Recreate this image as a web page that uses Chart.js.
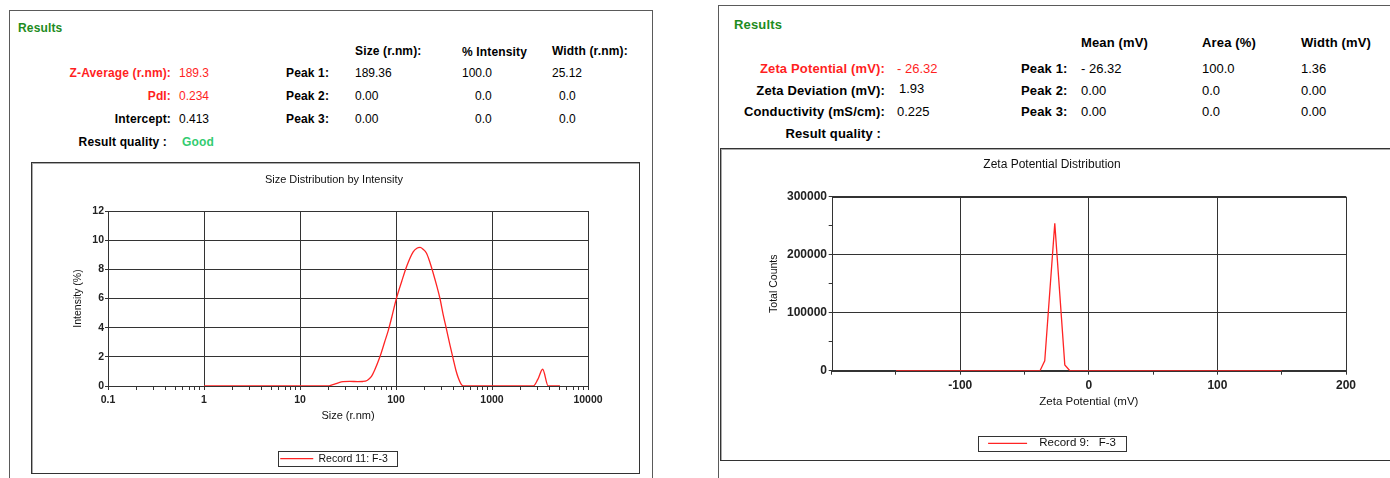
<!DOCTYPE html>
<html>
<head>
<meta charset="utf-8">
<title>Size and zeta potential results</title>
<script src="https://cdn.jsdelivr.net/npm/chart.js@4.4.1/dist/chart.umd.min.js"></script>
<style>
  body { margin: 0; width: 1390px; height: 478px; overflow: hidden; background: #fff; position: relative;
         font-family: "Liberation Sans", Arial, sans-serif; color: #000; }
  .frame { position: absolute; box-sizing: border-box; }
  .outer { border: 1px solid #5a5a5a; }
  .inner { border: 1px solid #333; box-shadow: inset 1px 1px 0 #aaa; }
  .t { position: absolute; white-space: nowrap; line-height: 1; transform: translateY(-50%); }
  .r { transform: translate(-100%, -50%); }
  .b { font-weight: bold; letter-spacing: 0.15px; }
  .red { color: #ff1f1f; }
  .green { color: #1e8c1e; }
  .good { color: #33cc70; }
  .p1 .t { font-size: 12px; }
  .p2 .t { font-size: 13px; }
  canvas { position: absolute; }
</style>
</head>
<body>

<!-- left panel: size -->
<div class="frame outer" style="left:9px;top:10px;width:644px;height:480px"></div>
<div class="frame inner" style="left:31px;top:162px;width:609px;height:312px"></div>
<div class="p1">
  <div class="t b green" style="left:18px;top:28px">Results</div>
  <div class="t b" style="left:355px;top:51px">Size (r.nm):</div>
  <div class="t b" style="left:462px;top:52px">% Intensity</div>
  <div class="t b" style="left:552px;top:51px">Width (r.nm):</div>

  <div class="t b red r" style="left:171px;top:73px">Z-Average (r.nm):</div>
  <div class="t red" style="left:179px;top:73px">189.3</div>
  <div class="t b" style="left:286px;top:73px">Peak 1:</div>
  <div class="t" style="left:355px;top:73px">189.36</div>
  <div class="t" style="left:462px;top:73px">100.0</div>
  <div class="t" style="left:552px;top:73px">25.12</div>

  <div class="t b red r" style="left:171px;top:96px">PdI:</div>
  <div class="t red" style="left:179px;top:96px">0.234</div>
  <div class="t b" style="left:286px;top:96px">Peak 2:</div>
  <div class="t" style="left:355px;top:96px">0.00</div>
  <div class="t" style="left:475px;top:96px">0.0</div>
  <div class="t" style="left:559px;top:96px">0.0</div>

  <div class="t b r" style="left:171px;top:119px">Intercept:</div>
  <div class="t" style="left:179px;top:119px">0.413</div>
  <div class="t b" style="left:286px;top:119px">Peak 3:</div>
  <div class="t" style="left:355px;top:119px">0.00</div>
  <div class="t" style="left:475px;top:119px">0.0</div>
  <div class="t" style="left:559px;top:119px">0.0</div>

  <div class="t b r" style="left:167px;top:142px">Result quality&nbsp;:</div>
  <div class="t b good" style="left:182px;top:142px">Good</div>
</div>
<canvas id="sizeChart" width="610" height="320" style="left:29px;top:163px"></canvas>

<!-- right panel: zeta -->
<div class="frame outer" style="left:718px;top:5px;width:700px;height:500px"></div>
<div class="frame inner" style="left:720px;top:148px;width:700px;height:313px"></div>
<div class="p2">
  <div class="t b green" style="left:734px;top:24px">Results</div>
  <div class="t b" style="left:1081px;top:42px">Mean (mV)</div>
  <div class="t b" style="left:1202px;top:42px">Area (%)</div>
  <div class="t b" style="left:1301px;top:42px">Width (mV)</div>

  <div class="t b red r" style="left:885px;top:68px">Zeta Potential (mV):</div>
  <div class="t red" style="left:897px;top:68px">- 26.32</div>
  <div class="t b" style="left:1021px;top:68px">Peak 1:</div>
  <div class="t" style="left:1081px;top:68px">- 26.32</div>
  <div class="t" style="left:1202px;top:68px">100.0</div>
  <div class="t" style="left:1301px;top:68px">1.36</div>

  <div class="t b r" style="left:885px;top:90px">Zeta Deviation (mV):</div>
  <div class="t" style="left:899px;top:88px">1.93</div>
  <div class="t b" style="left:1021px;top:90px">Peak 2:</div>
  <div class="t" style="left:1081px;top:90px">0.00</div>
  <div class="t" style="left:1202px;top:90px">0.0</div>
  <div class="t" style="left:1301px;top:90px">0.00</div>

  <div class="t b r" style="left:885px;top:111px">Conductivity (mS/cm):</div>
  <div class="t" style="left:897px;top:111px">0.225</div>
  <div class="t b" style="left:1021px;top:111px">Peak 3:</div>
  <div class="t" style="left:1081px;top:111px">0.00</div>
  <div class="t" style="left:1202px;top:111px">0.0</div>
  <div class="t" style="left:1301px;top:111px">0.00</div>

  <div class="t b r" style="left:881px;top:133px">Result quality&nbsp;:</div>
</div>
<canvas id="zetaChart" width="662" height="320" style="left:721px;top:149px"></canvas>

<script>
// size distribution (record 11)
const sizeNm = [1, 2, 5, 10, 15, 19.5, 22, 25, 28, 33, 40, 45, 50, 55, 60, 68, 76, 83, 91, 100,
  115, 129, 151, 165, 178, 190, 208, 225, 245, 265, 287, 310, 338, 365, 396, 420, 446, 475, 504, 600,
  1000, 2000, 2700, 3000, 3370, 3850, 4500, 5100];
const intensityPct = [0, 0, 0, 0, 0, 0, 0.1, 0.22, 0.3, 0.32, 0.3, 0.31, 0.38, 0.62, 1.1, 2.0, 3.0, 3.8, 4.8, 5.9,
  7.2, 8.2, 9.2, 9.45, 9.5, 9.4, 9.1, 8.5, 7.7, 6.9, 6.0, 4.9, 3.8, 2.8, 1.8, 1.1, 0.55, 0.15, 0, 0,
  0, 0, 0, 0.45, 1.15, 0, 0, 0];
const sizeTicks = [0.1, 1, 10, 100, 1000, 10000];
const intensityTicks = [0, 2, 4, 6, 8, 10, 12];

// zeta potential distribution (record 9)
const zetaMv = [-150, -38, -34.3, -26.5, -18.7, -14.8, 150];
const zetaCounts = [0, 0, 17000, 254000, 10000, 0, 0];
const zetaTicks = [-100, 0, 100, 200];
const countTicks = [0, 100000, 200000, 300000];

Chart.defaults.font.family = '"Liberation Sans", Arial, sans-serif';
Chart.defaults.color = '#111';

const GRID = '#333';
const LINE = '#ff2424';

// box round the plot area
const framePlugin = {
    id: 'frame',
    beforeDatasetsDraw(chart) {
        const a = chart.chartArea;
        const ctx = chart.ctx;
        ctx.save();
        ctx.strokeStyle = GRID;
        ctx.lineWidth = 1;
        const x0 = Math.round(a.left) + 0.5, y0 = Math.round(a.top) + 0.5;
        ctx.strokeRect(x0, y0, Math.round(a.right) - Math.round(a.left), Math.round(a.bottom) - Math.round(a.top));
        ctx.restore();
    }
};

// box round the legend item
const legendFrame = {
    id: 'legendFrame',
    afterDraw(chart, args, opts) {
        const hb = chart.legend && chart.legend.legendHitBoxes && chart.legend.legendHitBoxes[0];
        if (!hb) return;
        const ctx = chart.ctx;
        const x0 = Math.round(hb.left - opts.padL) + 0.5;
        const x1 = Math.round(hb.left + hb.width + opts.padR) + 0.5;
        const y0 = Math.round(hb.top - 2) + 0.5;
        const y1 = Math.round(hb.top + hb.height + 2) + 0.5;
        ctx.save();
        ctx.strokeStyle = '#333';
        ctx.lineWidth = 1;
        ctx.strokeRect(x0, y0, x1 - x0, y1 - y0);
        ctx.restore();
    }
};

function logTickList(majors) {
    const list = [];
    for (let i = 0; i < majors.length - 1; i++) {
        for (let k = 1; k <= 9; k++) list.push(k === 1 ? majors[i] : majors[i] * k);
    }
    list.push(majors[majors.length - 1]);
    return list;
}

document.addEventListener('DOMContentLoaded', function () {
    new Chart(document.getElementById('sizeChart'), {
        type: 'line',
        data: {
            datasets: [{
                label: 'Record 11: F-3',
                data: sizeNm.map((x, i) => ({ x: x, y: intensityPct[i] })),
                borderColor: LINE,
                backgroundColor: LINE,
                borderWidth: 1.3,
                pointRadius: 0,
                cubicInterpolationMode: 'monotone'
            }]
        },
        options: {
            responsive: false,
            animation: false,
            devicePixelRatio: 1,
            events: [],
            layout: { padding: { top: 0, left: 0, right: 0, bottom: 9.05 } },
            plugins: {
                title: {
                    display: true,
                    text: 'Size Distribution by Intensity',
                    color: '#111',
                    font: { size: 11, weight: 'normal' },
                    padding: { top: 10.4, bottom: 24.4 }
                },
                legend: {
                    position: 'bottom',
                    labels: {
                        usePointStyle: true,
                        pointStyle: 'line',
                        pointStyleWidth: 33,
                        color: '#111',
                        font: { size: 10.5 },
                        padding: 8
                    }
                },
                legendFrame: { padL: 2, padR: 9 },
                tooltip: { enabled: false }
            },
            scales: {
                x: {
                    type: 'logarithmic',
                    min: 0.1,
                    max: 10000,
                    afterFit: s => { s.height = 59.45; },
                    afterBuildTicks: s => { s.ticks = logTickList(sizeTicks).map(v => ({ value: v })); },
                    ticks: {
                        autoSkip: false,
                        maxRotation: 0,
                        padding: 3.7,
                        font: { size: 10.5, weight: 'bold' },
                        color: '#222',
                        callback: v => sizeTicks.includes(v) ? String(v) : ''
                    },
                    grid: {
                        color: c => (c.tick && sizeTicks.includes(c.tick.value)) ? GRID : 'rgba(0,0,0,0)',
                        tickColor: GRID,
                        tickLength: 4
                    },
                    border: { display: false },
                    title: {
                        display: true,
                        text: 'Size (r.nm)',
                        font: { size: 11 },
                        padding: { top: 0, bottom: 22.85 }
                    }
                },
                y: {
                    min: 0,
                    max: 12,
                    afterFit: s => { s.width = 79; },
                    ticks: {
                        stepSize: 1,
                        padding: 1,
                        font: { size: 10.5, weight: 'bold' },
                        color: '#222',
                        callback: v => intensityTicks.includes(v) ? String(v) : ''
                    },
                    grid: {
                        color: c => (c.tick && intensityTicks.includes(c.tick.value)) ? GRID : 'rgba(0,0,0,0)',
                        tickColor: GRID,
                        tickLength: 3
                    },
                    border: { display: false },
                    title: {
                        display: true,
                        text: 'Intensity (%)',
                        font: { size: 10.5 },
                        padding: { top: 42.7, bottom: 0 }
                    }
                },
                pad: {
                    position: 'right',
                    afterFit: s => { s.width = 51; },
                    ticks: { display: false },
                    grid: { display: false },
                    border: { display: false }
                }
            }
        },
        plugins: [framePlugin, legendFrame]
    });

    new Chart(document.getElementById('zetaChart'), {
        type: 'line',
        data: {
            datasets: [{
                label: '  Record 9:   F-3',
                data: zetaMv.map((x, i) => ({ x: x, y: zetaCounts[i] })),
                borderColor: LINE,
                backgroundColor: LINE,
                borderWidth: 1.3,
                pointRadius: 0,
                tension: 0
            }]
        },
        options: {
            responsive: false,
            animation: false,
            devicePixelRatio: 1,
            events: [],
            layout: { padding: { top: 0, left: 0, right: 0, bottom: 9.95 } },
            plugins: {
                title: {
                    display: true,
                    text: 'Zeta Potential Distribution',
                    color: '#111',
                    font: { size: 12, weight: 'normal' },
                    padding: { top: 8.8, bottom: 24.5 }
                },
                legend: {
                    position: 'bottom',
                    labels: {
                        usePointStyle: true,
                        pointStyle: 'line',
                        pointStyleWidth: 39,
                        color: '#111',
                        font: { size: 11.5 },
                        padding: 8
                    }
                },
                legendFrame: { padL: 10, padR: 10 },
                tooltip: { enabled: false }
            },
            scales: {
                x: {
                    type: 'linear',
                    min: -200,
                    max: 200,
                    afterFit: s => { s.height = 58.85; },
                    ticks: {
                        stepSize: 50,
                        autoSkip: false,
                        maxRotation: 0,
                        padding: 3.4,
                        font: { size: 12, weight: 'bold' },
                        color: '#222',
                        callback: v => zetaTicks.includes(v) ? String(v) : ''
                    },
                    grid: {
                        color: c => (c.tick && zetaTicks.includes(c.tick.value)) ? GRID : 'rgba(0,0,0,0)',
                        tickColor: GRID,
                        tickLength: 4
                    },
                    border: { display: false },
                    title: {
                        display: true,
                        text: 'Zeta Potential (mV)',
                        font: { size: 11.5 },
                        padding: { top: 0, bottom: 20.35 }
                    }
                },
                y: {
                    min: 0,
                    max: 300000,
                    afterFit: s => { s.width = 110.7; },
                    ticks: {
                        stepSize: 50000,
                        padding: 1.7,
                        font: { size: 12, weight: 'bold' },
                        color: '#222',
                        callback: v => countTicks.includes(v) ? String(v) : ''
                    },
                    grid: {
                        color: c => (c.tick && countTicks.includes(c.tick.value)) ? GRID : 'rgba(0,0,0,0)',
                        tickColor: GRID,
                        tickLength: 3
                    },
                    border: { display: false },
                    title: {
                        display: true,
                        text: 'Total Counts',
                        font: { size: 10.5 },
                        padding: { top: 46.7, bottom: 0 }
                    }
                },
                pad: {
                    position: 'right',
                    afterFit: s => { s.width = 37; },
                    ticks: { display: false },
                    grid: { display: false },
                    border: { display: false }
                }
            }
        },
        plugins: [framePlugin, legendFrame]
    });
});
</script>
</body>
</html>
